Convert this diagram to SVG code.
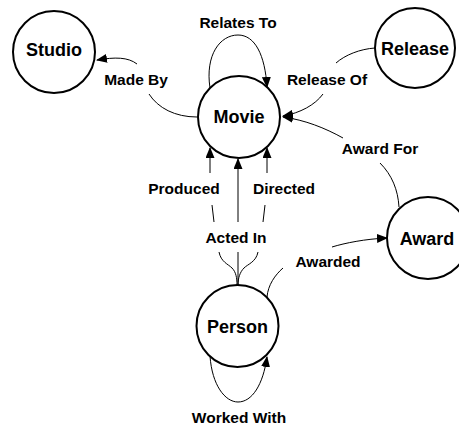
<svg xmlns="http://www.w3.org/2000/svg" width="459" height="426" viewBox="0 0 459 426">
<defs>
<marker id="arr" markerWidth="11" markerHeight="9" refX="10" refY="4.5" orient="auto" markerUnits="userSpaceOnUse">
<path d="M0,0 L11,4.5 L0,9 Z" fill="#000"/>
</marker>
<style>
.node circle{fill:#fff;stroke:#000;stroke-width:2}
.node text{font-family:"Liberation Sans",Arial,sans-serif;font-weight:bold;font-size:18px;text-anchor:middle;fill:#000}
.edge{fill:none;stroke:#000;stroke-width:1}
.lbl{font-family:"Liberation Sans",Arial,sans-serif;font-weight:bold;font-size:15.5px;text-anchor:middle;fill:#000}
</style>
</defs>
<rect width="459" height="426" fill="#fff"/>
<g id="connectors">
<!-- Made By -->
<path class="edge" d="M197,117 C175,117 158,108 149,94"/>
<path class="edge" d="M137,64 C128,57 115,57 97,60" marker-end="url(#arr)"/>
<!-- Relates To -->
<path class="edge" d="M210,88 C205,55 220,35 238,35 C255,35 265,55 267,87" marker-end="url(#arr)"/>
<!-- Release Of -->
<path class="edge" d="M375,48 C360,49 345,55 336,63"/>
<path class="edge" d="M323,94 C315,105 300,113 283,116" marker-end="url(#arr)"/>
<!-- Award For -->
<path class="edge" d="M399,207 C398,190 392,175 380,163"/>
<path class="edge" d="M343,138 C325,128 305,120 283,117" marker-end="url(#arr)"/>
<!-- Produced -->
<path class="edge" d="M210,173 L210,148" marker-end="url(#arr)"/>
<path class="edge" d="M212,205 L214,222"/>
<path class="edge" d="M219,252 C221,262 228,264 232,268 C236,272 237,278 237,285"/>
<!-- Acted In -->
<path class="edge" d="M238,222 L238,159" marker-end="url(#arr)"/>
<path class="edge" d="M238,252 L238,285"/>
<!-- Directed -->
<path class="edge" d="M267,173 L267,148" marker-end="url(#arr)"/>
<path class="edge" d="M265,205 L263,222"/>
<path class="edge" d="M258,252 C256,262 248,264 244,268 C240,272 238,278 238,285"/>
<!-- Awarded -->
<path class="edge" d="M267,297 C268,285 275,275 283,268"/>
<path class="edge" d="M332,247 C345,243 365,239 387,238" marker-end="url(#arr)"/>
<!-- Worked With -->
<path class="edge" d="M210,356 C212,385 225,402 238,402 C252,402 263,385 267,357" marker-end="url(#arr)"/>
</g>
<g id="edge-labels">
<text class="lbl" x="136" y="85">Made By</text>
<text class="lbl" x="238" y="28">Relates To</text>
<text class="lbl" x="327" y="85">Release Of</text>
<text class="lbl" x="380" y="154">Award For</text>
<text class="lbl" x="184" y="194">Produced</text>
<text class="lbl" x="284" y="194">Directed</text>
<text class="lbl" x="236" y="243">Acted In</text>
<text class="lbl" x="328" y="267">Awarded</text>
<text class="lbl" x="239" y="423">Worked With</text>
</g>
<g id="studio" class="node"><circle cx="54" cy="52" r="41"/><text x="54" y="56">Studio</text></g>
<g id="release" class="node"><circle cx="415" cy="48" r="40"/><text x="415" y="55">Release</text></g>
<g id="movie" class="node"><circle cx="239" cy="117" r="41"/><text x="239" y="123">Movie</text></g>
<g id="person" class="node"><circle cx="237.5" cy="326" r="41"/><text x="237.5" y="333">Person</text></g>
<g id="award" class="node"><circle cx="428" cy="238" r="41"/><text x="427" y="245">Award</text></g>
</svg>
